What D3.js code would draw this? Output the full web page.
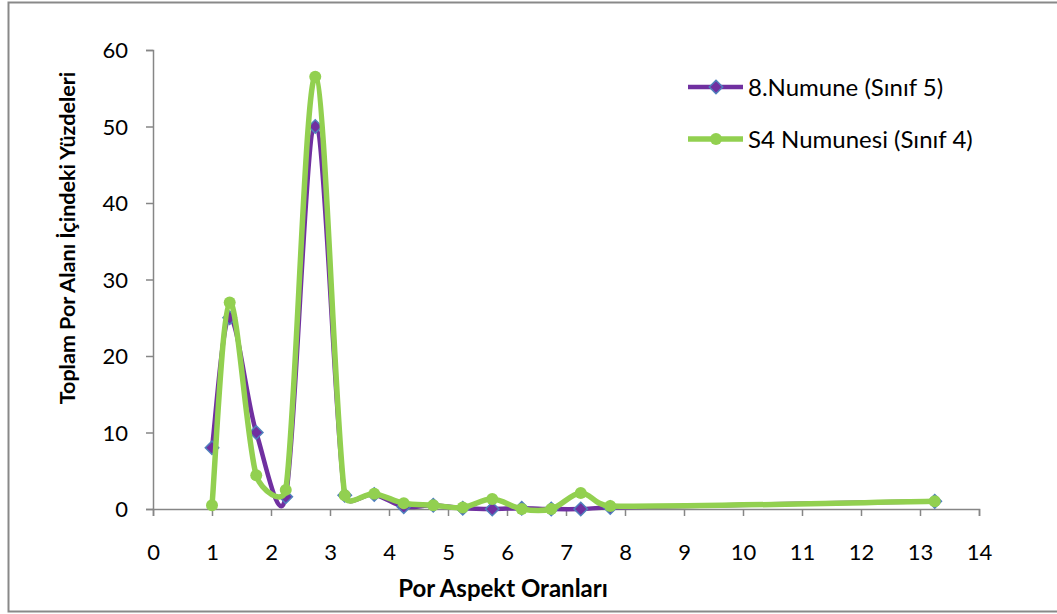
<!DOCTYPE html>
<html>
<head>
<meta charset="utf-8">
<script src="https://cdn.jsdelivr.net/npm/d3@7"></script>
<style>
  body { margin: 0; background: #fff; }
  svg { display: block; font-family: Lato, "Open Sans", sans-serif; }
</style>
</head>
<body>
<div id="chart"></div>
<script>
// por aspekt oranlari (x) and percentages (y)
var xValues = [1, 1.3, 1.75, 2.25, 2.75, 3.25, 3.75, 4.25, 4.75, 5.25, 5.75, 6.25, 6.75, 7.25, 7.75, 13.25];
var numune8 = [8, 25, 10, 1.6, 50, 1.8, 1.9, 0.3, 0.5, 0.1, 0, 0.1, 0, 0, 0.2, 1];
var s4 = [0.5, 27, 4.4, 2.5, 56.5, 1.8, 2, 0.75, 0.5, 0.2, 1.3, 0, 0, 2.1, 0.4, 1];
var xTicks = d3.range(0, 15);
var yTicks = [0, 10, 20, 30, 40, 50, 60];
var seriesNames = ["8.Numune (Sınıf 5)", "S4 Numunesi (Sınıf 4)"];

var w = 1057, h = 614;
var axisColor = "#868686";

// spreadsheet-style smoothing: 1/6 tangents, arm capped at half the segment
function SmoothCurve(context) { this._context = context; }
SmoothCurve.prototype = {
  areaStart: function() {},
  areaEnd: function() {},
  lineStart: function() { this._pts = []; },
  point: function(x, y) { this._pts.push([+x, +y]); },
  lineEnd: function() {
    var p = this._pts, c = this._context, n = p.length;
    if (!n) return;
    c.moveTo(p[0][0], p[0][1]);
    for (var i = 0; i < n - 1; i++) {
      var p0 = p[Math.max(i - 1, 0)], p1 = p[i], p2 = p[i + 1], p3 = p[Math.min(i + 2, n - 1)];
      var d12 = Math.hypot(p2[0] - p1[0], p2[1] - p1[1]);
      var d02 = Math.hypot(p2[0] - p0[0], p2[1] - p0[1]);
      var d13 = Math.hypot(p3[0] - p1[0], p3[1] - p1[1]);
      var f1 = 1 / 6, f2 = 1 / 6;
      if (d02 * f1 > d12 / 2) f1 = d12 / (2 * d02);
      if (d13 * f2 > d12 / 2) f2 = d12 / (2 * d13);
      c.bezierCurveTo(
        p1[0] + f1 * (p2[0] - p0[0]), p1[1] + f1 * (p2[1] - p0[1]),
        p2[0] - f2 * (p3[0] - p1[0]), p2[1] - f2 * (p3[1] - p1[1]),
        p2[0], p2[1]);
    }
  }
};

var svg = d3.select("#chart")
            .append("svg")
            .attr("width", w)
            .attr("height", h);

// outer frame
svg.append("rect")
   .attr("x", 8.5)
   .attr("y", 2.5)
   .attr("width", 1060)
   .attr("height", 609)
   .attr("fill", "none")
   .attr("stroke", "#898989")
   .attr("stroke-width", 2);

var xScale = d3.scaleLinear()
               .domain([0, 14])
               .range([153, 979]);

var yScale = d3.scaleLinear()
               .domain([0, 60])
               .range([509, 50]);

var xAxis = d3.axisBottom(xScale)
              .tickValues(xTicks)
              .tickSize(7)
              .tickFormat(d3.format("d"));

var yAxis = d3.axisLeft(yScale)
              .tickValues(yTicks)
              .tickSize(7)
              .tickPadding(18);

var gx = svg.append("g")
            .attr("transform", "translate(0," + yScale(0) + ")")
            .call(xAxis);

var gy = svg.append("g")
            .attr("transform", "translate(" + xScale(0) + ",0)")
            .call(yAxis);

[gx, gy].forEach(function(g) {
  g.select(".domain").attr("stroke", axisColor).attr("stroke-width", 1.5);
  g.selectAll(".tick line").attr("stroke", axisColor).attr("stroke-width", 1.5);
  g.selectAll(".tick text")
   .attr("fill", "#000")
   .style("font-size", "22px")
   .style("font-family", "Lato, 'Open Sans', sans-serif");
});
gx.selectAll(".tick text").attr("dy", "0").attr("y", 51);
gy.selectAll(".tick text").attr("dy", "0.36em");

// axis titles
svg.append("text")
   .attr("x", 503)
   .attr("y", 597)
   .attr("text-anchor", "middle")
   .style("font-size", "24px")
   .style("font-weight", "bold")
   .text("Por Aspekt Oranları");

svg.append("text")
   .attr("transform", "translate(75,238) rotate(-90)")
   .attr("text-anchor", "middle")
   .style("font-size", "21.5px")
   .style("font-weight", "bold")
   .text("Toplam Por Alanı İçindeki Yüzdeleri");

var line = d3.line()
             .x(function(d) { return xScale(d[0]); })
             .y(function(d) { return yScale(d[1]); })
             .curve(function(ctx) { return new SmoothCurve(ctx); });

var purpleData = xValues.map(function(x, i) { return [x, numune8[i]]; });
var greenData = xValues.map(function(x, i) { return [x, s4[i]]; });

var diamond = d3.symbol().type(d3.symbolDiamond2).size(115);

// purple series
svg.append("path")
   .datum(purpleData)
   .attr("fill", "none")
   .attr("stroke", "#7030a0")
   .attr("stroke-width", 4.5)
   .attr("d", line);

svg.selectAll(".dia")
   .data(purpleData)
   .enter()
   .append("path")
   .attr("class", "dia")
   .attr("transform", function(d) { return "translate(" + xScale(d[0]) + "," + yScale(d[1]) + ")"; })
   .attr("d", diamond)
   .attr("fill", "#7030a0")
   .attr("stroke", "#4f81bd")
   .attr("stroke-width", 1.5);

// green series
svg.append("path")
   .datum(greenData)
   .attr("fill", "none")
   .attr("stroke", "#92d050")
   .attr("stroke-width", 5.5)
   .attr("d", line);

svg.selectAll(".dot")
   .data(greenData)
   .enter()
   .append("circle")
   .attr("class", "dot")
   .attr("cx", function(d) { return xScale(d[0]); })
   .attr("cy", function(d) { return yScale(d[1]); })
   .attr("r", 6)
   .attr("fill", "#92d050");

// legend
var legend = svg.append("g");
var legendY = [87, 139];

legend.append("line")
      .attr("x1", 688).attr("x2", 743)
      .attr("y1", legendY[0]).attr("y2", legendY[0])
      .attr("stroke", "#7030a0").attr("stroke-width", 4.5);
legend.append("path")
      .attr("transform", "translate(716," + legendY[0] + ")")
      .attr("d", diamond)
      .attr("fill", "#7030a0")
      .attr("stroke", "#4f81bd")
      .attr("stroke-width", 1.5);

legend.append("line")
      .attr("x1", 688).attr("x2", 743)
      .attr("y1", legendY[1]).attr("y2", legendY[1])
      .attr("stroke", "#92d050").attr("stroke-width", 5.5);
legend.append("circle")
      .attr("cx", 716).attr("cy", legendY[1])
      .attr("r", 6)
      .attr("fill", "#92d050");

legend.selectAll(".ltext")
      .data(seriesNames)
      .enter()
      .append("text")
      .attr("class", "ltext")
      .attr("x", 748)
      .attr("y", function(d, i) { return legendY[i]; })
      .attr("dy", "0.36em")
      .style("font-size", "24px")
      .text(function(d) { return d; });
</script>
</body>
</html>
